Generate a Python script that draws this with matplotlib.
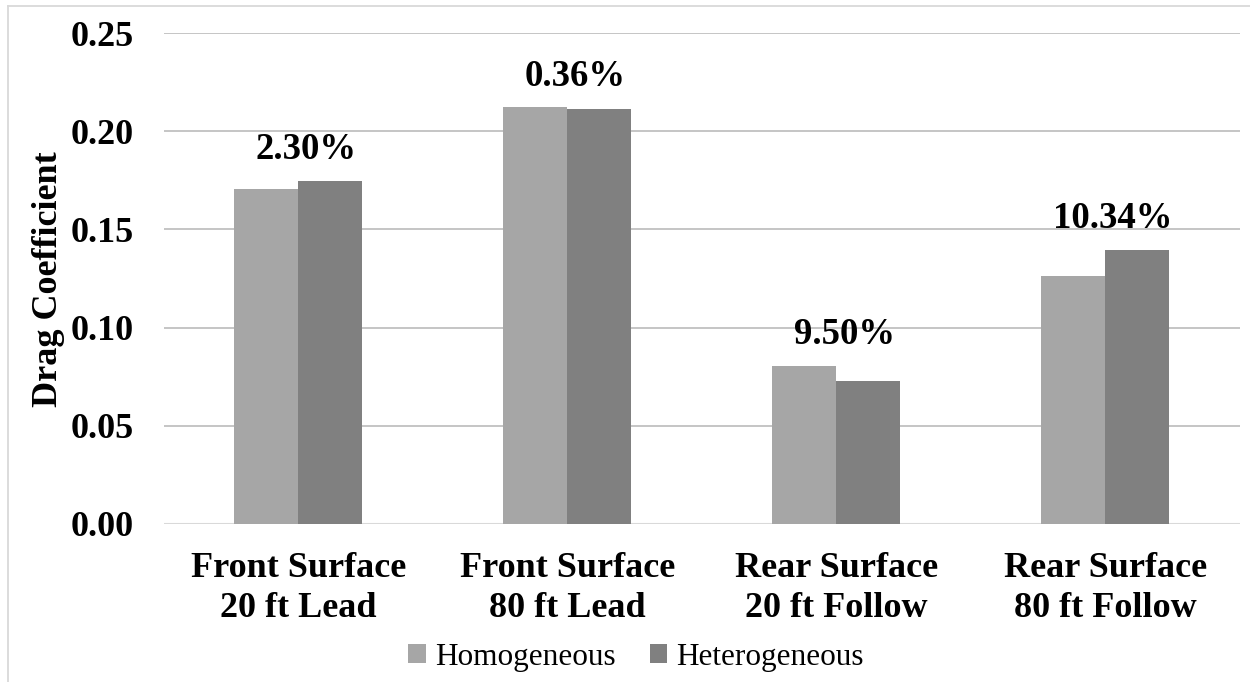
import matplotlib
matplotlib.use("Agg")
import matplotlib.pyplot as plt
from matplotlib.lines import Line2D
from matplotlib.patches import Patch
import numpy as np

categories = ["Front Surface\n20 ft Lead", "Front Surface\n80 ft Lead",
              "Rear Surface\n20 ft Follow", "Rear Surface\n80 ft Follow"]
homogeneous = [0.1705, 0.2121, 0.0804, 0.1264]
heterogeneous = [0.1746, 0.2113, 0.0727, 0.1396]
pct_labels = ["2.30%", "0.36%", "9.50%", "10.34%"]
yticks = [0.00, 0.05, 0.10, 0.15, 0.20, 0.25]
series_names = ["Homogeneous", "Heterogeneous"]
colors = ["#a6a6a6", "#808080"]

serif = ["Liberation Serif", "DejaVu Serif"]
plt.rcParams["font.family"] = serif

fig = plt.figure(figsize=(12.5, 6.82), dpi=100)
ax = fig.add_axes([0.1312, 0.2317, 0.8604, 0.7199])

x = np.arange(len(categories))
w = 0.238
ax.bar(x - w / 2, homogeneous, width=w, color=colors[0], linewidth=0, zorder=3)
ax.bar(x + w / 2, heterogeneous, width=w, color=colors[1], linewidth=0, zorder=3)

for i, lab in enumerate(pct_labels):
    top = max(homogeneous[i], heterogeneous[i])
    ax.annotate(lab, xy=(x[i] + 0.03, top), xytext=(0, 10), textcoords="offset points",
                ha="center", va="bottom", fontsize=26.5, fontweight="bold")

ax.set_xlim(-0.5, len(categories) - 0.5)
ax.set_ylim(0, 0.25)
ax.set_yticks(yticks)
ax.set_yticklabels([f"{t:.2f}" for t in yticks], fontsize=26, fontweight="bold")
ax.set_xticks(x)
ax.set_xticklabels(categories, fontsize=26, fontweight="bold", linespacing=1.28)
ax.tick_params(axis="both", length=0)
ax.tick_params(axis="y", pad=22)
ax.tick_params(axis="x", pad=20)
ax.grid(axis="y", color="#c0c0c0", linewidth=1.3, zorder=0)
for s in ax.spines.values():
    s.set_visible(False)
ax.axhline(0, color="#d9d9d9", linewidth=1.5, zorder=2)

fig.text(0.0385, 0.591, "Drag Coefficient", rotation=90, ha="center", va="center",
         fontsize=26, fontweight="bold")

handles = [Patch(facecolor=c, edgecolor="none") for c in colors]
fig.legend(handles, series_names, loc="center", bbox_to_anchor=(0.509, 0.036), ncol=2,
           frameon=False, fontsize=22.5, handlelength=0.55, handleheight=0.55,
           handletextpad=0.3, columnspacing=1.1)

# figure border (top and left visible)
fig.add_artist(Line2D([7.5 / 1250, 7.5 / 1250], [0, 1 - 5.5 / 682], transform=fig.transFigure,
                      color="#d9d9d9", linewidth=1.3))
fig.add_artist(Line2D([7.5 / 1250, 1], [1 - 5.5 / 682, 1 - 5.5 / 682], transform=fig.transFigure,
                      color="#d9d9d9", linewidth=1.3))

fig.savefig("out.png", dpi=100)
